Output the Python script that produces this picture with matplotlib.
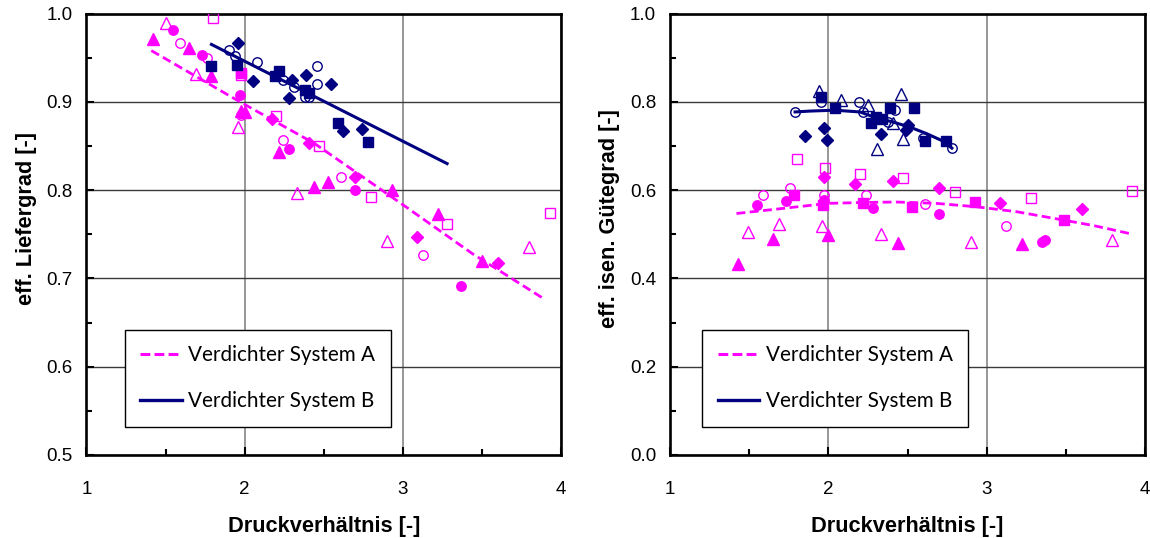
import numpy as np
import matplotlib
matplotlib.use('Agg')
import matplotlib.pyplot as plt
from matplotlib.lines import Line2D
from matplotlib.ticker import MultipleLocator

plt.rcParams['font.family'] = ['Liberation Sans', 'DejaVu Sans']

MAG = '#ff00ff'
NAVY = '#000080'

# ---- left panel: eff. Liefergrad, Verdichter System A (magenta)
liefA_tri_f_x = [1.42, 1.65, 1.79, 1.98, 2.00, 2.22, 2.44, 2.53, 2.93, 3.22, 3.50]
liefA_tri_f_y = [0.971, 0.961, 0.929, 0.890, 0.888, 0.843, 0.803, 0.809, 0.800, 0.773, 0.720]
liefA_tri_o_x = [1.50, 1.69, 1.96, 2.33, 2.90, 3.80]
liefA_tri_o_y = [0.989, 0.931, 0.871, 0.797, 0.742, 0.735]
liefA_cir_f_x = [1.55, 1.73, 1.97, 2.28, 2.70, 3.37]
liefA_cir_f_y = [0.981, 0.953, 0.908, 0.847, 0.800, 0.691]
liefA_cir_o_x = [1.59, 1.76, 1.976, 2.24, 2.61, 3.13]
liefA_cir_o_y = [0.967, 0.950, 0.885, 0.857, 0.815, 0.727]
liefA_sq_f_x = [1.98]
liefA_sq_f_y = [0.933]
liefA_sq_o_x = [1.80, 1.98, 2.20, 2.47, 2.80, 3.28, 3.93]
liefA_sq_o_y = [0.995, 0.930, 0.884, 0.850, 0.792, 0.762, 0.774]
liefA_dia_x = [2.17, 2.41, 2.70, 3.09, 3.60]
liefA_dia_y = [0.881, 0.853, 0.815, 0.747, 0.717]
liefA_trend_x = [1.41, 1.97, 2.44, 2.98, 3.44, 3.90]
liefA_trend_y = [0.958, 0.900, 0.853, 0.786, 0.728, 0.676]

# ---- left panel: Verdichter System B (navy)
liefB_dia_x = [1.957, 2.05, 2.30, 2.39, 2.545, 2.28, 2.62, 2.74]
liefB_dia_y = [0.967, 0.924, 0.925, 0.930, 0.920, 0.904, 0.867, 0.869]
liefB_cir_o_x = [1.90, 1.94, 2.08, 2.245, 2.31, 2.46, 2.46, 2.38, 2.41]
liefB_cir_o_y = [0.959, 0.952, 0.945, 0.925, 0.917, 0.940, 0.920, 0.905, 0.906]
liefB_sq_f_x = [1.79, 1.95, 2.22, 2.19, 2.38, 2.41, 2.59, 2.78]
liefB_sq_f_y = [0.941, 0.942, 0.935, 0.929, 0.913, 0.910, 0.876, 0.855]
liefB_trend_x = [1.79, 3.28]
liefB_trend_y = [0.965, 0.830]

# ---- right panel: eff. isen. Guetegrad, System A (magenta)
gueA_tri_f_x = [1.43, 1.65, 2.00, 2.44, 3.22]
gueA_tri_f_y = [0.433, 0.490, 0.499, 0.481, 0.478]
gueA_tri_o_x = [1.495, 1.69, 1.96, 2.33, 2.90, 3.79]
gueA_tri_o_y = [0.505, 0.524, 0.519, 0.500, 0.482, 0.488]
gueA_cir_f_x = [1.55, 1.73, 1.97, 2.28, 2.70, 3.35, 3.37]
gueA_cir_f_y = [0.566, 0.575, 0.578, 0.560, 0.545, 0.482, 0.487]
gueA_cir_o_x = [1.59, 1.76, 1.975, 2.24, 2.61, 3.12]
gueA_cir_o_y = [0.589, 0.605, 0.589, 0.589, 0.568, 0.519]
gueA_sq_f_x = [1.785, 1.965, 2.22, 2.53, 2.925, 3.49]
gueA_sq_f_y = [0.590, 0.566, 0.570, 0.562, 0.572, 0.532]
gueA_sq_o_x = [1.80, 1.98, 2.20, 2.47, 2.80, 3.28, 3.92]
gueA_sq_o_y = [0.671, 0.650, 0.636, 0.628, 0.596, 0.582, 0.598]
gueA_dia_x = [1.975, 2.17, 2.41, 2.70, 3.085, 3.60]
gueA_dia_y = [0.630, 0.613, 0.620, 0.605, 0.570, 0.558]
gueA_trend_x = [1.42, 1.65, 2.00, 2.22, 2.43, 2.68, 2.94, 3.19, 3.44, 3.67, 3.91]
gueA_trend_y = [0.547, 0.556, 0.570, 0.572, 0.573, 0.570, 0.562, 0.551, 0.535, 0.520, 0.501]

# ---- right panel: System B (navy)
gueB_tri_o_x = [1.94, 2.08, 2.25, 2.31, 2.41, 2.46, 2.47]
gueB_tri_o_y = [0.824, 0.805, 0.792, 0.693, 0.753, 0.817, 0.716]
gueB_sq_f_x = [1.953, 2.04, 2.27, 2.30, 2.34, 2.39, 2.54, 2.61, 2.74]
gueB_sq_f_y = [0.811, 0.785, 0.753, 0.766, 0.761, 0.785, 0.785, 0.712, 0.712]
gueB_cir_o_x = [1.953, 1.79, 2.195, 2.22, 2.42, 2.375, 2.595, 2.78]
gueB_cir_o_y = [0.799, 0.777, 0.800, 0.777, 0.781, 0.754, 0.719, 0.695]
gueB_dia_x = [1.85, 1.97, 1.99, 2.33, 2.50, 2.49]
gueB_dia_y = [0.723, 0.741, 0.714, 0.728, 0.748, 0.735]
gueB_trend_x = [1.79, 1.885, 2.04, 2.20, 2.30, 2.41, 2.52, 2.62, 2.73, 2.78]
gueB_trend_y = [0.777, 0.779, 0.781, 0.777, 0.764, 0.754, 0.742, 0.728, 0.710, 0.695]

legend_labels = ['Verdichter System A', 'Verdichter System B']
x_label = 'Druckverhältnis [-]'
y_labels = ['eff. Liefergrad [-]', 'eff. isen. Gütegrad [-]']

MS = {'^': 8.3, 'o': 6.8, 's': 6.8, 'D': 5.8}


def dots(ax, x, y, marker, color, filled):
  ax.plot(x, y, linestyle='none', marker=marker, markersize=MS[marker],
          markerfacecolor=color if filled else 'none', markeredgecolor=color,
          markeredgewidth=1.0, zorder=3)


def styleAxes(ax, ymin, ymax, ymajor, yminor, ylabel):
  ax.set_xlim(1, 4)
  ax.set_ylim(ymin, ymax)
  ax.xaxis.set_major_locator(MultipleLocator(1))
  ax.xaxis.set_minor_locator(MultipleLocator(0.5))
  ax.yaxis.set_major_locator(MultipleLocator(ymajor))
  ax.yaxis.set_minor_locator(MultipleLocator(yminor))
  ax.yaxis.set_major_formatter(matplotlib.ticker.FormatStrFormatter('%.1f'))
  ax.xaxis.grid(True, color='#7a7a7a', linewidth=1.1)
  ax.yaxis.grid(True, color='#3a3a3a', linewidth=1.0)
  ax.set_axisbelow(True)
  for sp in ax.spines.values():
    sp.set_linewidth(1.9)
  ax.tick_params(which='both', direction='in', top=False, right=False, width=1.5, labelsize=13.5)
  ax.tick_params(which='major', length=6)
  ax.tick_params(which='minor', length=4)
  ax.tick_params(axis='y', pad=10)
  ax.tick_params(axis='x', pad=19)
  ax.set_xlabel(x_label, fontsize=15.7, fontweight='bold', labelpad=13)
  ax.set_ylabel(ylabel, fontsize=15.7, fontweight='bold', labelpad=7)
  ax.yaxis.label.set_y(0.535)


def addLegend(ax, left):
  handles = [Line2D([], [], color=MAG, linewidth=2.2, dashes=(3.2, 1.4)),
             Line2D([], [], color=NAVY, linewidth=2.4)]
  leg = ax.legend(handles, legend_labels, loc='upper left', bbox_to_anchor=(left, 0.283),
                  borderaxespad=0, frameon=True, fancybox=False, edgecolor='black',
                  framealpha=1, handlelength=2.0, handletextpad=0.32, labelspacing=1.26,
                  borderpad=0.74, prop={'family': ['Lato', 'DejaVu Sans'], 'size': 14.9})
  leg.get_frame().set_linewidth(1.0)


fig = plt.figure(figsize=(11.5, 5.38), dpi=100)
ax1 = fig.add_axes([0.0752, 0.1543, 0.4126, 0.8206])
ax2 = fig.add_axes([0.5826, 0.1543, 0.4131, 0.8206])

# left panel
styleAxes(ax1, 0.5, 1.0, 0.1, 0.05, y_labels[0])
ax1.plot(liefA_trend_x, liefA_trend_y, color=MAG, linewidth=2.0, dashes=(3.2, 1.6), zorder=2)
ax1.plot(liefB_trend_x, liefB_trend_y, color=NAVY, linewidth=2.2, zorder=2)
dots(ax1, liefA_tri_f_x, liefA_tri_f_y, '^', MAG, True)
dots(ax1, liefA_tri_o_x, liefA_tri_o_y, '^', MAG, False)
dots(ax1, liefA_cir_f_x, liefA_cir_f_y, 'o', MAG, True)
dots(ax1, liefA_cir_o_x, liefA_cir_o_y, 'o', MAG, False)
dots(ax1, liefA_sq_f_x, liefA_sq_f_y, 's', MAG, True)
dots(ax1, liefA_sq_o_x, liefA_sq_o_y, 's', MAG, False)
dots(ax1, liefA_dia_x, liefA_dia_y, 'D', MAG, True)
dots(ax1, liefB_dia_x, liefB_dia_y, 'D', NAVY, True)
dots(ax1, liefB_cir_o_x, liefB_cir_o_y, 'o', NAVY, False)
dots(ax1, liefB_sq_f_x, liefB_sq_f_y, 's', NAVY, True)
addLegend(ax1, 0.081)

# right panel
styleAxes(ax2, 0.0, 1.0, 0.2, 0.1, y_labels[1])
ax2.plot(gueA_trend_x, gueA_trend_y, color=MAG, linewidth=2.0, dashes=(3.2, 1.6), zorder=2)
ax2.plot(gueB_trend_x, gueB_trend_y, color=NAVY, linewidth=2.2, zorder=2)
dots(ax2, gueA_tri_f_x, gueA_tri_f_y, '^', MAG, True)
dots(ax2, gueA_tri_o_x, gueA_tri_o_y, '^', MAG, False)
dots(ax2, gueA_cir_f_x, gueA_cir_f_y, 'o', MAG, True)
dots(ax2, gueA_cir_o_x, gueA_cir_o_y, 'o', MAG, False)
dots(ax2, gueA_sq_f_x, gueA_sq_f_y, 's', MAG, True)
dots(ax2, gueA_sq_o_x, gueA_sq_o_y, 's', MAG, False)
dots(ax2, gueA_dia_x, gueA_dia_y, 'D', MAG, True)
dots(ax2, gueB_tri_o_x, gueB_tri_o_y, '^', NAVY, False)
dots(ax2, gueB_sq_f_x, gueB_sq_f_y, 's', NAVY, True)
dots(ax2, gueB_cir_o_x, gueB_cir_o_y, 'o', NAVY, False)
dots(ax2, gueB_dia_x, gueB_dia_y, 'D', NAVY, True)
addLegend(ax2, 0.068)

fig.savefig('out.png', dpi=100)
